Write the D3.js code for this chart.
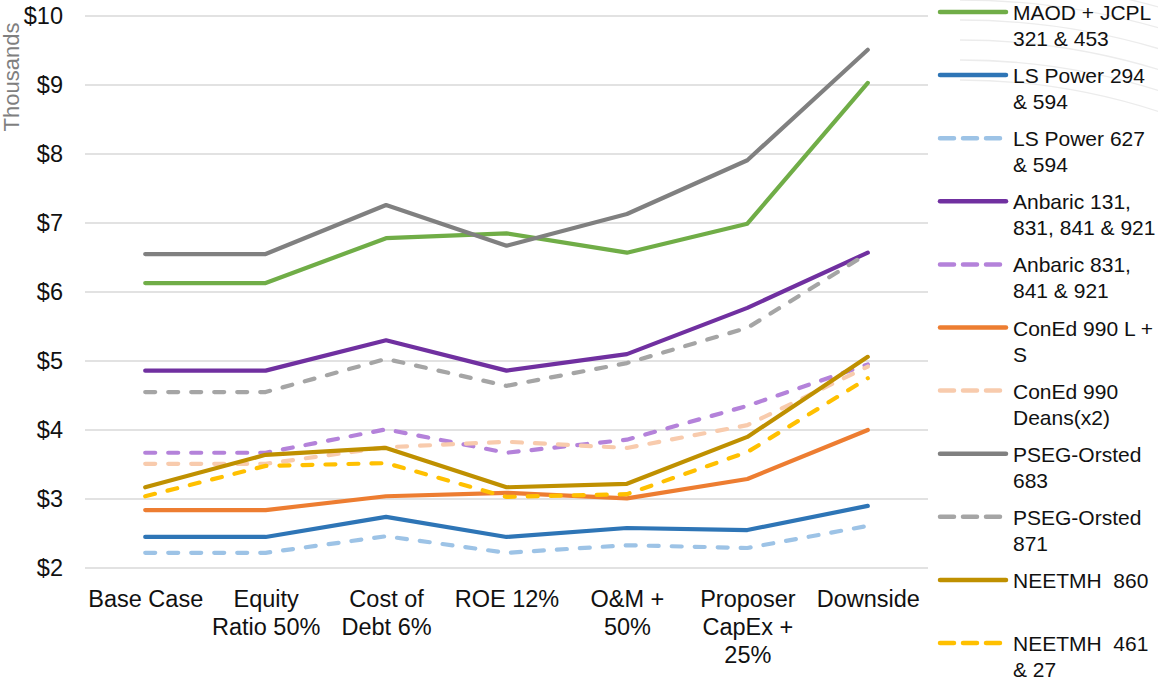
<!DOCTYPE html>
<html>
<head>
<meta charset="utf-8">
<script src="https://cdn.jsdelivr.net/npm/d3@7/dist/d3.min.js"></script>
<style>
  html, body { margin: 0; padding: 0; background: #fff; }
  svg { display: block; font-family: "Liberation Sans", Arial, sans-serif; }
</style>
</head>
<body>
<svg id="chart" width="1158" height="680"></svg>
<script>
// ---- data ----
const categories = ["Base Case", "Equity Ratio 50%", "Cost of Debt 6%", "ROE 12%", "O&M + 50%", "Proposer CapEx + 25%", "Downside"];
const categoryLines = [["Base Case"], ["Equity", "Ratio 50%"], ["Cost of", "Debt 6%"], ["ROE 12%"], ["O&M +", "50%"], ["Proposer", "CapEx +", "25%"], ["Downside"]];
const yTicks = [2, 3, 4, 5, 6, 7, 8, 9, 10];
const yTickLabels = ["$2", "$3", "$4", "$5", "$6", "$7", "$8", "$9", "$10"];
const yAxisTitle = "Thousands";

const seriesNames = [
  ["MAOD + JCPL", "321 & 453"],
  ["LS Power 294", "& 594"],
  ["LS Power 627", "& 594"],
  ["Anbaric 131,", "831, 841 & 921"],
  ["Anbaric 831,", "841 & 921"],
  ["ConEd 990 L +", "S"],
  ["ConEd 990", "Deans(x2)"],
  ["PSEG-Orsted", "683"],
  ["PSEG-Orsted", "871"],
  ["NEETMH  860"],
  ["NEETMH  461", "& 27"]
];
const maodJcpl      = [6.13, 6.13, 6.78, 6.85, 6.57, 6.99, 9.03];
const lsPower294    = [2.45, 2.45, 2.74, 2.45, 2.58, 2.55, 2.90];
const lsPower627    = [2.22, 2.22, 2.46, 2.22, 2.33, 2.29, 2.61];
const anbaric131    = [4.86, 4.86, 5.30, 4.86, 5.10, 5.77, 6.57];
const anbaric831    = [3.67, 3.67, 4.01, 3.67, 3.86, 4.35, 4.95];
const conEdLS       = [2.84, 2.84, 3.04, 3.09, 3.01, 3.29, 4.00];
const conEdDeans    = [3.51, 3.51, 3.75, 3.83, 3.74, 4.07, 4.92];
const psegOrsted683 = [6.55, 6.55, 7.26, 6.67, 7.13, 7.91, 9.51];
const psegOrsted871 = [4.55, 4.55, 5.03, 4.64, 4.97, 5.48, 6.56];
const neetmh860     = [3.17, 3.64, 3.74, 3.17, 3.22, 3.90, 5.06];
const neetmh461     = [3.04, 3.48, 3.52, 3.03, 3.07, 3.68, 4.75];

const seriesValues = [maodJcpl, lsPower294, lsPower627, anbaric131, anbaric831, conEdLS, conEdDeans, psegOrsted683, psegOrsted871, neetmh860, neetmh461];
const seriesColors = ["#70AD47", "#2E75B6", "#9DC3E6", "#7030A0", "#B482DA", "#ED7D31", "#F8CBAD", "#808080", "#A5A5A5", "#BF9000", "#FFC000"];
const seriesDashed = [false, false, true, false, true, false, true, false, true, false, true];

// ---- layout ----
const svg = d3.select("#chart");
const plot = { left: 85, right: 928, top: 16, bottom: 568 };

const x = d3.scalePoint().domain(categories).range([plot.left, plot.right]).padding(0.5);
const y = d3.scaleLinear().domain([2, 10]).range([plot.bottom, plot.top]);

// faint decorative arcs (background watermark, upper right)
svg.append("clipPath").attr("id", "arcclip").append("rect")
  .attr("x", 960).attr("y", 0).attr("width", 198).attr("height", 120);
const arcG = svg.append("g").attr("clip-path", "url(#arcclip)")
  .attr("fill", "none").attr("stroke", "#ececec").attr("stroke-width", 1.3);
[640, 660, 680, 700, 720, 740].forEach(r => {
  arcG.append("circle").attr("cx", 960).attr("cy", 720).attr("r", r);
});

// gridlines
svg.append("g")
  .selectAll("line")
  .data(yTicks)
  .join("line")
  .attr("x1", plot.left).attr("x2", plot.right)
  .attr("y1", d => y(d)).attr("y2", d => y(d))
  .attr("stroke", "#d9d9d9").attr("stroke-width", 1.5);

// y axis
const yAxis = d3.axisLeft(y).tickValues(yTicks).tickFormat((d, i) => yTickLabels[i]).tickSize(0).tickPadding(0);
const yg = svg.append("g").attr("transform", "translate(63,0)").call(yAxis);
yg.select(".domain").remove();
yg.selectAll("text").attr("font-size", 23.5).attr("fill", "#111").attr("font-family", "'Liberation Sans', Arial, sans-serif");

// y axis title
svg.append("text")
  .attr("transform", "translate(19,77) rotate(-90)")
  .attr("text-anchor", "middle")
  .attr("font-size", 22)
  .attr("fill", "#7f7f7f")
  .text(yAxisTitle);

// x axis labels
const xAxis = d3.axisBottom(x).tickSize(0).tickFormat(() => "");
const xg = svg.append("g").attr("transform", `translate(0,${plot.bottom})`).call(xAxis);
xg.select(".domain").remove();
xg.selectAll(".tick").each(function(d, i) {
  const t = d3.select(this).append("text")
    .attr("text-anchor", "middle")
    .attr("font-size", 23.5)
    .attr("fill", "#111")
    .attr("font-family", "'Liberation Sans', Arial, sans-serif");
  categoryLines[i].forEach((ln, j) => {
    t.append("tspan").attr("x", 0).attr("y", 39 + j * 28).text(ln);
  });
});

// lines
const line = d3.line().x((d, i) => x(categories[i])).y(d => y(d));
svg.append("g")
  .selectAll("path")
  .data(seriesValues)
  .join("path")
  .attr("d", d => line(d))
  .attr("fill", "none")
  .attr("stroke", (d, i) => seriesColors[i])
  .attr("stroke-width", 4.2)
  .attr("stroke-linejoin", "round")
  .attr("stroke-linecap", "round")
  .attr("stroke-dasharray", (d, i) => seriesDashed[i] ? "10,13" : null);

// legend
const lg = svg.append("g");
seriesNames.forEach((name, i) => {
  const ly = 12 + i * 63.1;
  lg.append("line")
    .attr("x1", 940).attr("x2", 1006)
    .attr("y1", ly).attr("y2", ly)
    .attr("stroke", seriesColors[i])
    .attr("stroke-width", 4.5)
    .attr("stroke-linecap", "round")
    .attr("stroke-dasharray", seriesDashed[i] ? "14,9" : null);
  const t = lg.append("text")
    .attr("font-size", 21)
    .attr("fill", "#111");
  name.forEach((ln, j) => {
    t.append("tspan").attr("x", 1013).attr("y", ly + 8 + j * 26).attr("xml:space", "preserve").text(ln);
  });
});
</script>
</body>
</html>
